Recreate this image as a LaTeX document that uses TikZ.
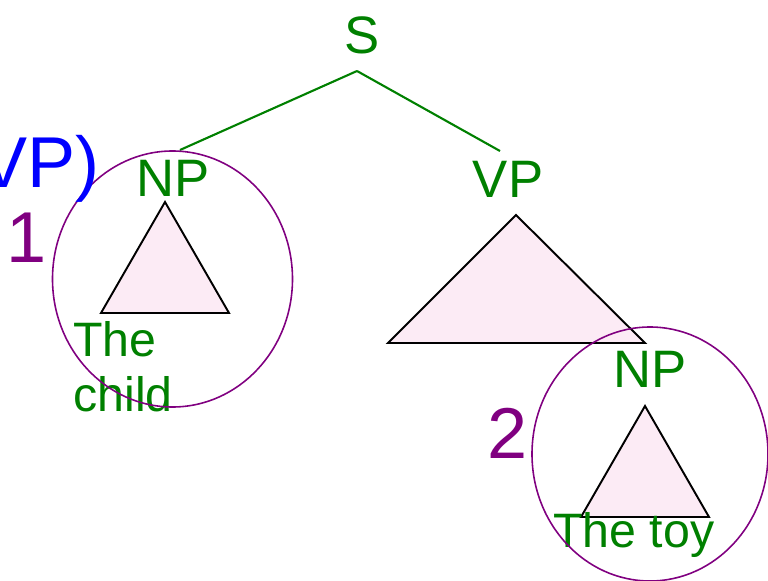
\documentclass[tikz,border=0pt]{standalone}
\usepackage{fontspec}
\setmainfont{Liberation Sans}
\usetikzlibrary{calc}
\definecolor{treegreen}{RGB}{0,128,0}
\definecolor{ringpurple}{RGB}{128,0,128}
\definecolor{roofpink}{RGB}{252,235,245}
\tikzset{
cat/.style={text=treegreen, inner sep=0pt, font=\fontsize{30}{34}\selectfont},
leaf/.style={text=treegreen, inner sep=0pt, font=\fontsize{27.5}{31.5}\selectfont},
num/.style={inner sep=0pt, font=\fontsize{41}{46}\selectfont},
edge/.style={draw=treegreen, line width=1.2pt},
roofline/.style={draw=black, fill=roofpink, line width=1.1pt, line join=miter},
ring/.style={draw=ringpurple, line width=0.9pt},
smallroof/.pic={
  \draw[roofline] (0,0) -- (-64,111) -- (64,111) -- cycle;
  },
bigroof/.pic={
  \draw[roofline] (0,0) -- (-128,128) -- (129,128) -- cycle;
  }
}
\begin{document}
\begin{tikzpicture}[x=0.02cm, y=-0.02cm]
\useasboundingbox (0,0) rectangle (768,581);
% categories
\node[cat, anchor=base] (s) at (362,54) {S};
\node[cat, anchor=base] (np1) at (173,196) {NP};
\node[cat, anchor=base] (vp) at (508,197) {VP};
\node[cat, anchor=base] (np2) at (650,387) {NP};
\draw[edge] ($(s.base)+(-5,17)$) -- ($(np1.base)+(7,-46)$);
\draw[edge] ($(s.base)+(-5,17)$) -- ($(vp.base)+(-8,-46)$);
% subtrees
\pic at (165,202) {smallroof};
\pic at (516,215) {bigroof};
\pic at (645,406) {smallroof};
\node[leaf, anchor=north west, align=left] (child) at (73,321) {The\\child};
\node[leaf, anchor=base west] (toy) at (553,547) {The toy};
% the two circled phrases
\draw[ring] (172.5,279) ellipse [x radius=120, y radius=128];
\draw[ring] (650,454) ellipse [x radius=118, y radius=127];
\node[num, text=blue, anchor=base east] (vpclose) at (100,188) {VP)};
\node[num, text=ringpurple, anchor=base] (one) at (27,262) {1};
\node[num, text=ringpurple, anchor=base] (two) at (508,458) {2};
\end{tikzpicture}
\end{document}
